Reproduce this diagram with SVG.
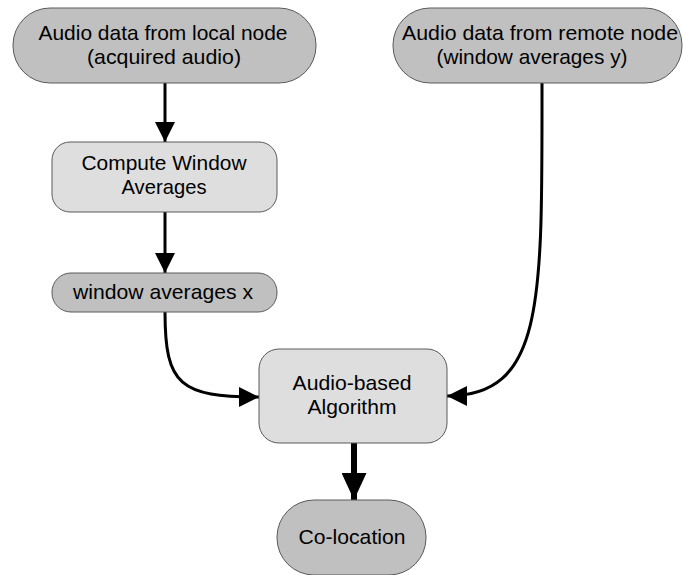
<svg xmlns="http://www.w3.org/2000/svg" width="683" height="575" viewBox="0 0 683 575">
  <defs>
    <style>
      .dark { fill: #c0c0c0; stroke: #5a5a5a; stroke-width: 1; }
      .light { fill: #dedede; stroke: #5a5a5a; stroke-width: 1; }
      text { font-family: "Liberation Sans", Arial, sans-serif; font-size: 21px; fill: #000; text-anchor: middle; }
      .edge { fill: none; stroke: #000; stroke-width: 3; }
      .thick { fill: none; stroke: #000; stroke-width: 6; }
    </style>
    <marker id="arrow" viewBox="0 0 20 20" refX="20" refY="10" markerWidth="20" markerHeight="20" markerUnits="userSpaceOnUse" orient="auto">
      <path d="M0,0 L20,10 L0,20 Z" fill="#000"/>
    </marker>
    <marker id="arrowBig" viewBox="0 0 27 25" refX="27" refY="12.5" markerWidth="27" markerHeight="25" markerUnits="userSpaceOnUse" orient="auto">
      <path d="M0,0 L27,12.5 L0,25 Z" fill="#000"/>
    </marker>
  </defs>

  <g id="connectors">
    <path class="edge" d="M165,83 L165,142" marker-end="url(#arrow)"/>
    <path class="edge" d="M165,212 L165,273" marker-end="url(#arrow)"/>
    <path class="edge" d="M165,312 C165,385 180,397 259,397" marker-end="url(#arrow)"/>
    <path class="edge" d="M542,83 C542,300 545,396 447,396" marker-end="url(#arrow)"/>
    <path class="thick" d="M354,443 L354,500" marker-end="url(#arrowBig)"/>
  </g>

  <g id="local-audio">
    <rect class="dark" x="13" y="8" width="303" height="75" rx="37" ry="37"/>
    <text x="163" y="40" textLength="249" lengthAdjust="spacingAndGlyphs">Audio data from local node</text>
    <text x="164" y="64" textLength="154" lengthAdjust="spacingAndGlyphs">(acquired audio)</text>
  </g>

  <g id="remote-audio">
    <rect class="dark" x="393" y="8" width="289" height="75" rx="37" ry="37"/>
    <text x="540" y="40" textLength="276" lengthAdjust="spacingAndGlyphs">Audio data from remote node</text>
    <text x="532" y="64" textLength="191" lengthAdjust="spacingAndGlyphs">(window averages y)</text>
  </g>

  <g id="compute-window-averages">
    <rect class="light" x="52" y="142" width="225" height="70" rx="18" ry="18"/>
    <text x="164" y="170" textLength="165" lengthAdjust="spacingAndGlyphs">Compute Window</text>
    <text x="164" y="194" textLength="85" lengthAdjust="spacingAndGlyphs">Averages</text>
  </g>

  <g id="window-averages-x">
    <rect class="dark" x="52" y="273" width="225" height="39" rx="19" ry="19"/>
    <text x="163" y="299" textLength="180" lengthAdjust="spacingAndGlyphs">window averages x</text>
  </g>

  <g id="audio-based-algorithm">
    <rect class="light" x="259" y="349" width="188" height="94" rx="20" ry="20"/>
    <text x="352" y="390" textLength="119" lengthAdjust="spacingAndGlyphs">Audio-based</text>
    <text x="352" y="414" textLength="89" lengthAdjust="spacingAndGlyphs">Algorithm</text>
  </g>

  <g id="co-location">
    <rect class="dark" x="277" y="500" width="149" height="75" rx="37" ry="37"/>
    <text x="352" y="544" textLength="107" lengthAdjust="spacingAndGlyphs">Co-location</text>
  </g>
</svg>
